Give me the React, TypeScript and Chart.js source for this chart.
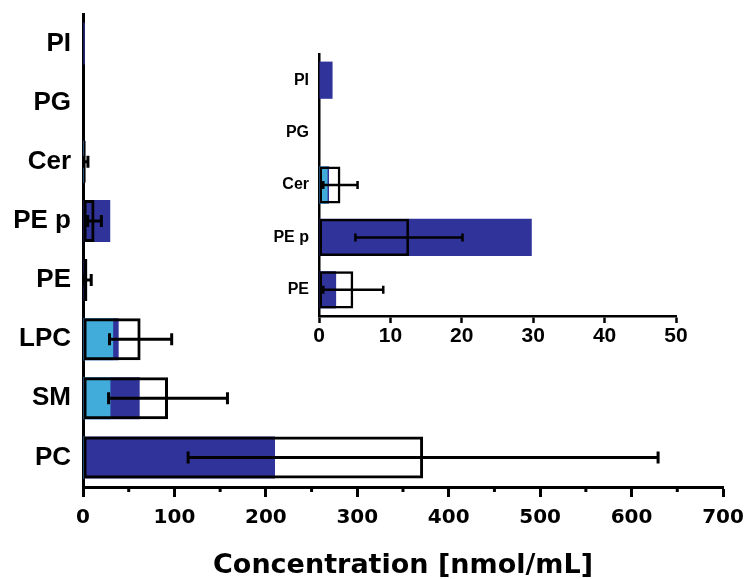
import React, { useEffect, useRef } from 'react';
import { Chart, registerables } from 'chart.js';

Chart.register(...registerables);

// ---- data ----
const categories = ['PI', 'PG', 'Cer', 'PE p', 'PE', 'LPC', 'SM', 'PC'];
const lightBlueValues = [0, 0, 1.2, 0, 0, 33, 30, 1.5];
const darkBlueValues = [1.9, 0, 1.4, 29.8, 2.4, 39, 62, 210];
const totalValues = [0, 0, 3.0, 12.6, 4.8, 63, 93, 372];
const totalSD = [0, 0, 2.4, 7.5, 4.2, 34, 65, 257];
const insetCount = 5; // PI..PE shown in the inset
const mainMax = 700;
const mainStep = 100;
const insetMax = 50;
const insetStep = 10;
const axisTitle = 'Concentration [nmol/mL]';

const DARK = '#30339a';
const LIGHT = '#41acd9';
const ARIAL = "'Liberation Sans', Arial, sans-serif";
const WIDE = "'DejaVu Sans', sans-serif";

const errorBarPlugin = {
  id: 'errorBars',
  afterDatasetsDraw(chart: any, _args: any, opts: any) {
    const { ctx } = chart;
    const xScale = chart.scales.x;
    const idx = opts.datasetIndex;
    const meta = chart.getDatasetMeta(idx);
    const means = chart.data.datasets[idx].data as number[];
    const sds = opts.sd as number[];
    ctx.save();
    ctx.strokeStyle = '#000';
    ctx.lineWidth = opts.lineWidth;
    meta.data.forEach((bar: any, i: number) => {
      const sd = sds[i];
      if (!sd) return;
      const m = means[i];
      const x1 = xScale.getPixelForValue(m - sd);
      const x2 = xScale.getPixelForValue(m + sd);
      const y = bar.y;
      const c = opts.cap;
      ctx.beginPath();
      ctx.moveTo(x1, y);
      ctx.lineTo(x2, y);
      ctx.moveTo(x1, y - c);
      ctx.lineTo(x1, y + c);
      ctx.moveTo(x2, y - c);
      ctx.lineTo(x2, y + c);
      ctx.stroke();
    });
    ctx.restore();
  },
};

const minorTickPlugin = {
  id: 'minorTicks',
  afterDraw(chart: any, _args: any, opts: any) {
    if (!opts || !opts.enabled) return;
    const { ctx } = chart;
    const xs = chart.scales.x;
    const ticks = xs.ticks.map((t: any) => t.value);
    ctx.save();
    ctx.strokeStyle = '#000';
    ctx.lineWidth = opts.width;
    for (let i = 0; i < ticks.length - 1; i++) {
      const v = (ticks[i] + ticks[i + 1]) / 2;
      const px = xs.getPixelForValue(v);
      ctx.beginPath();
      ctx.moveTo(px, xs.top);
      ctx.lineTo(px, xs.top + opts.length);
      ctx.stroke();
    }
    ctx.restore();
  },
};

function makeConfig(opts: {
  labels: string[];
  light: number[];
  dark: number[];
  total: number[];
  sd: number[];
  max: number;
  step: number;
  barBorder: number;
  yWidth: number;
  xHeight: number;
  padTop: number;
  padRight: number;
  yFont: number;
  yPad: number;
  xFont: any;
  xPad: number;
  tickLen: number;
  axisWidth: number;
  cap: number;
  errWidth: number;
  title: boolean;
  minor: boolean;
}): any {
  const barPct = 0.71;
  return {
    type: 'bar',
    data: {
      labels: opts.labels,
      datasets: [
        {
          label: 'total',
          data: opts.total,
          backgroundColor: 'rgba(0,0,0,0)',
          borderColor: '#000',
          borderWidth: opts.barBorder,
          borderSkipped: false,
          grouped: false,
          order: 0,
          barPercentage: barPct,
          categoryPercentage: 1,
        },
        {
          label: 'light',
          data: opts.light,
          backgroundColor: LIGHT,
          borderWidth: 0,
          grouped: false,
          order: 1,
          barPercentage: barPct,
          categoryPercentage: 1,
        },
        {
          label: 'dark',
          data: opts.dark,
          backgroundColor: DARK,
          borderWidth: 0,
          grouped: false,
          order: 2,
          barPercentage: barPct,
          categoryPercentage: 1,
        },
      ],
    },
    plugins: [errorBarPlugin, minorTickPlugin],
    options: {
      indexAxis: 'y',
      animation: false,
      responsive: false,
      maintainAspectRatio: false,
      events: [],
      layout: { padding: { top: opts.padTop, right: opts.padRight, left: 0, bottom: 0 } },
      plugins: {
        legend: { display: false },
        tooltip: { enabled: false },
        errorBars: { datasetIndex: 0, sd: opts.sd, cap: opts.cap, lineWidth: opts.errWidth },
        minorTicks: { enabled: opts.minor, length: 5, width: opts.axisWidth },
      },
      scales: {
        x: {
          type: 'linear',
          min: 0,
          max: opts.max,
          ticks: { stepSize: opts.step, color: '#000', font: opts.xFont, padding: opts.xPad, maxRotation: 0 },
          grid: {
            drawOnChartArea: false,
            drawTicks: true,
            tickLength: opts.tickLen,
            tickWidth: opts.axisWidth,
            tickColor: '#000',
          },
          border: { display: true, color: '#000', width: opts.axisWidth },
          title: {
            display: opts.title,
            text: axisTitle,
            color: '#000',
            font: { family: WIDE, size: 27, weight: 'bold', lineHeight: 1 },
            padding: { top: 0, bottom: 0 },
          },
          afterFit: (s: any) => {
            s.height = opts.xHeight;
            s.paddingLeft = 0;
            s.paddingRight = 0;
          },
        },
        y: {
          type: 'category',
          ticks: {
            color: '#000',
            font: { family: ARIAL, size: opts.yFont, weight: 'bold' },
            padding: opts.yPad,
          },
          grid: { display: false, drawTicks: false },
          border: { display: true, color: '#000', width: opts.axisWidth },
          afterFit: (s: any) => {
            s.width = opts.yWidth;
            s.paddingTop = 0;
            s.paddingBottom = 0;
          },
        },
      },
    },
  };
}

export default function App() {
  const mainRef = useRef<HTMLCanvasElement>(null);
  const insetRef = useRef<HTMLCanvasElement>(null);

  useEffect(() => {
    const main = new Chart(
      mainRef.current as HTMLCanvasElement,
      makeConfig({
        labels: categories,
        light: lightBlueValues,
        dark: darkBlueValues,
        total: totalValues,
        sd: totalSD,
        max: mainMax,
        step: mainStep,
        barBorder: 3,
        yWidth: 83,
        xHeight: 92,
        padTop: 14,
        padRight: 26,
        yFont: 26,
        yPad: 12,
        xFont: { family: WIDE, size: 20, weight: 'bold' },
        xPad: 9,
        tickLen: 10,
        axisWidth: 3,
        cap: 6,
        errWidth: 3,
        title: true,
        minor: true,
      })
    );
    const inset = new Chart(
      insetRef.current as HTMLCanvasElement,
      makeConfig({
        labels: categories.slice(0, insetCount),
        light: lightBlueValues.slice(0, insetCount),
        dark: darkBlueValues.slice(0, insetCount),
        total: totalValues.slice(0, insetCount),
        sd: totalSD.slice(0, insetCount),
        max: insetMax,
        step: insetStep,
        barBorder: 2.5,
        yWidth: 49,
        xHeight: 44,
        padTop: 14,
        padRight: 24,
        yFont: 16,
        yPad: 10,
        xFont: { family: ARIAL, size: 21, weight: 'bold' },
        xPad: 1,
        tickLen: 7,
        axisWidth: 2.5,
        cap: 4,
        errWidth: 2.5,
        title: false,
        minor: false,
      })
    );
    return () => {
      main.destroy();
      inset.destroy();
    };
  }, []);

  return (
    <div style={{ position: 'fixed', left: 0, top: 0, width: 749, height: 579, background: '#fff' }}>
      <canvas
        ref={mainRef}
        width={749}
        height={579}
        style={{ position: 'absolute', left: 0, top: 0, width: 749, height: 579, display: 'block' }}
      />
      <canvas
        ref={insetRef}
        width={430}
        height={320}
        style={{ position: 'absolute', left: 270, top: 40, width: 430, height: 320, display: 'block' }}
      />
    </div>
  );
}
